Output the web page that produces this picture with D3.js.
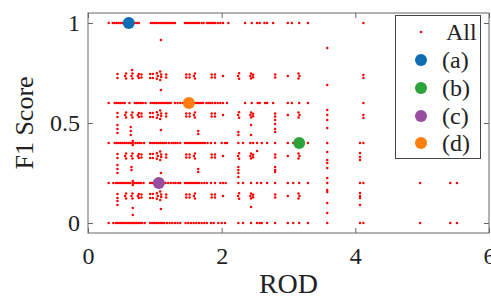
<!DOCTYPE html>
<html>
<head>
<meta charset="utf-8">
<script src="https://cdn.jsdelivr.net/npm/d3@7"></script>
<style>
  body { margin: 0; background: #fff; }
</style>
</head>
<body>
<div id="chart"></div>
<script>
// dense rows (F1 = 1, 0.6, 0.4, 0.2, 0) - ROD values
var xAt1 = [0.31, 0.37, 0.4, 0.43, 0.46, 0.49, 0.52, 0.7, 0.73, 0.76, 0.94, 0.97, 1.0, 1.03, 1.06, 1.09, 1.12, 1.15, 1.18, 1.21, 1.24, 1.27, 1.3,
    1.45, 1.48, 1.51, 1.54, 1.57, 1.6, 1.63, 1.66, 1.7, 1.73, 1.78, 1.81, 1.84, 1.87, 1.9, 1.94, 1.98, 2.02, 2.1,
    2.35, 2.45, 2.53, 2.57, 2.64, 2.68, 2.77, 2.99, 3.05, 3.16, 3.29, 4.12];
var xAt06 = [0.31, 0.4, 0.43, 0.46, 0.49, 0.52, 0.55, 0.62, 0.7, 0.73, 0.76, 0.79, 0.82, 0.86, 0.94, 0.97, 1.0, 1.03, 1.06, 1.09, 1.12, 1.15, 1.18, 1.21, 1.24,
    1.3, 1.34, 1.38, 1.42, 1.46, 1.6, 1.63, 1.66, 1.69, 1.72, 1.77, 1.8, 1.83, 1.86, 1.9, 1.94, 1.98, 2.02, 2.08,
    2.35, 2.45, 2.54, 2.57, 2.65, 2.68, 2.77, 2.99, 3.05, 3.16, 3.29, 4.12];
var xAt04 = [0.31, 0.4, 0.43, 0.46, 0.49, 0.52, 0.55, 0.58, 0.61, 0.64, 0.67, 0.71, 0.74, 0.77, 0.8, 0.84, 0.93, 0.96, 0.99, 1.02, 1.05, 1.08, 1.11, 1.14, 1.17,
    1.21, 1.25, 1.28, 1.31, 1.34, 1.38, 1.45, 1.48, 1.51, 1.54, 1.57, 1.6, 1.63, 1.66, 1.69, 1.72, 1.75, 1.79, 1.84, 1.9, 2.0, 2.05, 2.08,
    2.25, 2.32, 2.43, 2.47, 2.53, 2.6, 2.68, 2.8, 2.99, 3.07, 3.29, 3.58, 4.07, 4.12];
var xAt02 = [0.31, 0.38, 0.42, 0.45, 0.48, 0.51, 0.54, 0.57, 0.6, 0.63, 0.67, 0.7, 0.73, 0.76, 0.79, 0.83, 0.93, 0.96, 0.99, 1.02, 1.1, 1.13, 1.16,
    1.2, 1.24, 1.28, 1.31, 1.35, 1.38, 1.45, 1.48, 1.51, 1.54, 1.57, 1.6, 1.63, 1.66, 1.7, 1.74, 1.78, 1.84, 1.9, 1.98, 2.02, 2.06,
    2.25, 2.32, 2.44, 2.53, 2.59, 2.68, 2.8, 2.99, 3.07, 3.16, 3.29, 3.58, 4.07, 4.12, 4.97, 5.42, 5.52];
var xAt0 = [0.31, 0.38, 0.42, 0.45, 0.48, 0.51, 0.54, 0.57, 0.6, 0.63, 0.66, 0.69, 0.72, 0.75, 0.78, 0.81, 0.85, 0.93, 0.96, 0.99, 1.02, 1.05, 1.08, 1.11, 1.14,
    1.18, 1.22, 1.26, 1.3, 1.34, 1.38, 1.46, 1.5, 1.54, 1.58, 1.62, 1.66, 1.7, 1.74, 1.78, 1.84, 1.88, 1.95, 2.0, 2.05,
    2.25, 2.32, 2.44, 2.53, 2.57, 2.6, 2.68, 2.8, 2.99, 3.07, 3.16, 3.29, 3.58, 4.07, 4.12, 4.97, 5.42, 5.52];

// the "( C: 8 )}" clumps repeat on four levels
var clumpLevels = [0.135, 0.335, 0.54, 0.735];
var clumpShape = [
    [0.44, -0.01], [0.44, 0.01],
    [0.57, -0.012], [0.555, 0], [0.57, 0.012],
    [0.665, -0.012], [0.65, 0], [0.665, 0.012],
    [0.76, -0.01], [0.745, 0], [0.76, 0.01], [0.8, -0.008], [0.8, 0.008],
    [0.93, -0.01], [0.93, 0.01], [0.97, -0.01], [0.97, 0.01],
    [1.03, -0.014], [1.045, 0], [1.03, 0.014],
    [1.08, -0.02], [1.095, -0.005], [1.095, 0.008], [1.08, 0.022],
    [1.17, -0.008], [1.17, 0.008],
    [1.47, -0.008], [1.47, 0.008], [1.52, -0.008], [1.52, 0.008],
    [1.6, -0.012], [1.585, 0], [1.6, 0.012],
    [1.85, -0.008], [1.85, 0.008], [1.9, -0.008], [1.9, 0.008],
    [2.02, 0],
    [2.26, -0.014], [2.245, 0], [2.26, 0.014],
    [2.44, -0.012], [2.43, 0], [2.44, 0.012], [2.47, -0.006], [2.47, 0.006],
    [2.8, -0.008], [2.8, 0.008],
    [2.99, 0],
    [3.15, -0.012], [3.165, 0], [3.15, 0.012]
];

// loose points / vertical stacks between the rows
var loosePts = [
    [0.44, 0.49], [0.44, 0.47], [0.44, 0.45], [0.44, 0.29], [0.44, 0.27], [0.44, 0.25], [0.44, 0.11], [0.44, 0.09],
    [0.64, 0.48], [0.64, 0.46], [0.64, 0.44], [0.65, 0.28], [0.65, 0.265],
    [0.67, 0.41], [0.67, 0.39], [0.67, 0.21], [0.67, 0.19], [0.67, 0.075], [0.67, 0.04], [0.66, 0.765],
    [1.09, 0.915], [1.09, 0.665], [1.09, 0.465], [1.09, 0.25], [1.09, 0.07],
    [1.65, 0.46], [1.65, 0.445], [1.65, 0.27], [1.65, 0.255],
    [2.25, 0.455], [2.25, 0.44], [2.25, 0.28], [2.25, 0.265], [2.25, 0.25], [2.25, 0.23],
    [2.44, 0.49], [2.44, 0.44], [2.44, 0.08], [2.53, 0.36],
    [2.8, 0.515], [2.8, 0.495], [2.8, 0.47], [2.8, 0.455], [2.8, 0.28], [2.8, 0.265], [2.8, 0.255],
    [3.58, 0.875], [3.58, 0.69], [3.58, 0.565], [3.58, 0.54], [3.58, 0.515], [3.58, 0.475], [3.58, 0.355],
    [3.58, 0.315], [3.58, 0.3], [3.58, 0.275], [3.58, 0.225], [3.58, 0.165], [3.58, 0.155], [3.58, 0.1], [3.58, 0.05],
    [4.07, 0.35], [4.07, 0.33], [4.07, 0.315], [4.07, 0.15], [4.07, 0.135], [4.07, 0.125], [4.07, 0.09],
    [4.12, 0.74], [4.12, 0.725], [4.12, 0.54], [4.12, 0.525]
];

// highlighted cases
var caseNames = ["(a)", "(b)", "(c)", "(d)"];
var caseRod = [0.61, 3.16, 1.06, 1.51];
var caseF1 = [1, 0.4, 0.2, 0.6];
var caseColors = ["#0f6db5", "#2ca33a", "#974ea0", "#ff7f0e"];

var xTicks = [0, 2, 4, 6];
var yTicks = [0, 0.5, 1];

var W = 491, H = 300;
var box = {left: 88, right: 489, top: 13, bottom: 233};
var FONT = "'Liberation Serif', 'Times New Roman', 'DejaVu Serif', serif";

var xScale = d3.scaleLinear().domain([0, 6]).range([box.left, box.right]);
var yScale = d3.scaleLinear().domain([-0.05, 1.05]).range([box.bottom, box.top]);

// flatten everything into one point list
var allPts = [];
[[1, xAt1], [0.6, xAt06], [0.4, xAt04], [0.2, xAt02], [0, xAt0]].forEach(function (r) {
    r[1].forEach(function (x) { allPts.push([x, r[0]]); });
});
clumpLevels.forEach(function (lv) {
    clumpShape.forEach(function (p) { allPts.push([p[0], lv + p[1]]); });
});
loosePts.forEach(function (p) { allPts.push(p); });

var svg = d3.select("#chart").append("svg")
        .attr("width", W)
        .attr("height", H)
        .style("font-family", FONT);

// axes, ticks pointing inwards like matlab
var xAxis = d3.axisBottom(xScale).tickValues(xTicks).tickSize(-5).tickPadding(14).tickFormat(d3.format("d"));
var yAxis = d3.axisLeft(yScale).tickValues(yTicks).tickSize(-5).tickPadding(8).tickFormat(function (d) { return d; });

svg.append("g")
        .attr("transform", "translate(0," + box.bottom + ")")
        .call(xAxis);
svg.append("g")
        .attr("transform", "translate(" + box.left + ",0)")
        .call(yAxis);

// top and right ticks (box on)
svg.append("g")
        .attr("transform", "translate(0," + box.top + ")")
        .call(d3.axisTop(xScale).tickValues(xTicks).tickSize(-5).tickFormat(""));
svg.append("g")
        .attr("transform", "translate(" + box.right + ",0)")
        .call(d3.axisRight(yScale).tickValues(yTicks).tickSize(-5).tickFormat(""));

svg.selectAll(".domain").remove();
svg.selectAll("g").attr("font-family", null);
svg.selectAll(".tick line").attr("stroke", "#666");
svg.selectAll(".tick text")
        .attr("font-family", FONT)
        .attr("font-size", 24)
        .attr("fill", "#222");

svg.append("rect")
        .attr("x", box.left)
        .attr("y", box.top)
        .attr("width", box.right - box.left)
        .attr("height", box.bottom - box.top)
        .attr("fill", "none")
        .attr("stroke", "#666")
        .attr("stroke-width", 1);

// all the red dots
svg.append("g").selectAll("circle")
        .data(allPts)
        .enter().append("circle")
        .attr("cx", function (d) { return xScale(d[0]); })
        .attr("cy", function (d) { return yScale(d[1]); })
        .attr("r", 1.25)
        .attr("fill", "#ff0000");

// the four cases
svg.append("g").selectAll("circle")
        .data(caseNames)
        .enter().append("circle")
        .attr("cx", function (d, i) { return xScale(caseRod[i]); })
        .attr("cy", function (d, i) { return yScale(caseF1[i]); })
        .attr("r", 6)
        .attr("fill", function (d, i) { return caseColors[i]; });

// axis labels
svg.append("text")
        .attr("x", (box.left + box.right) / 2)
        .attr("y", 293)
        .attr("text-anchor", "middle")
        .attr("font-family", FONT)
        .attr("font-size", 28)
        .attr("fill", "#222")
        .text("ROD");

svg.append("text")
        .attr("transform", "translate(33," + (box.top + box.bottom) / 2 + ") rotate(-90)")
        .attr("text-anchor", "middle")
        .attr("font-family", FONT)
        .attr("font-size", 26)
        .attr("fill", "#222")
        .text("F1 Score");

// legend
var leg = svg.append("g");
leg.append("rect")
        .attr("x", 395.5)
        .attr("y", 15.5)
        .attr("width", 85)
        .attr("height", 143)
        .attr("fill", "#fff")
        .attr("stroke", "#444")
        .attr("stroke-width", 1);

var legRows = ["All"].concat(caseNames);
var legY = [32, 60, 88, 116, 143];
legRows.forEach(function (name, i) {
    leg.append("circle")
        .attr("cx", 421)
        .attr("cy", legY[i])
        .attr("r", i === 0 ? 1.25 : 6)
        .attr("fill", i === 0 ? "#ff0000" : caseColors[i - 1]);
    leg.append("text")
        .attr("x", i === 0 ? 446 : 442)
        .attr("y", legY[i] + 8)
        .attr("font-family", FONT)
        .attr("font-size", 24)
        .attr("fill", "#222")
        .text(name);
});
</script>
</body>
</html>
